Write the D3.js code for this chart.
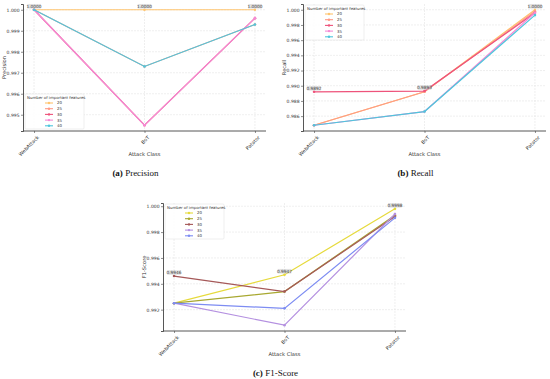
<!DOCTYPE html>
<html><head><meta charset="utf-8">
<script src="https://cdn.jsdelivr.net/npm/d3@7"></script>
<style>body{margin:0;background:#fff}svg{display:block}</style>
</head><body>
<svg id="chart" width="550" height="379"></svg>
<script>
// ---- data ----
const categories = ["WebAttack", "BoT", "Patator"];
const featureCounts = ["20", "25", "30", "35", "40"];
// one array per feature count, in categories order
const precisionValues = [
  [1.0000, 1.0000, 1.0000],
  [1.0000, 0.9973, 0.9993],
  [1.0000, 0.9945, 0.9996],
  [1.0000, 0.9945, 0.9996],
  [1.0000, 0.9973, 0.9993]
];
const recallValues = [
  [0.9848, 0.9892, 1.0000],
  [0.9848, 0.9892, 0.9998],
  [0.9892, 0.9893, 0.9996],
  [0.9848, 0.9866, 0.9996],
  [0.9848, 0.9866, 0.9993]
];
const f1Values = [
  [0.9925, 0.9947, 0.9998],
  [0.9925, 0.9934, 0.9993],
  [0.9946, 0.9934, 0.9992],
  [0.9925, 0.9908, 0.9994],
  [0.9925, 0.9921, 0.9991]
];
const prColors = ["#ffc46e", "#ff9a85", "#ee537b", "#f58ad6", "#4fc6dc"];
const f1Colors = ["#e6da3c", "#a8a830", "#a55858", "#b490e0", "#7d8cf2"];

const panels = [
  {values: precisionValues, colors: prColors, ylabel: "Precision", tag: "(a)", caption: "Precision",
   x0: 23, x1: 266, y0: 4, y1: 131, tickCount: 6, legend: {x: 25, y: 94}},
  {values: recallValues, colors: prColors, ylabel: "Recall", tag: "(b)", caption: "Recall",
   x0: 303, x1: 546, y0: 4, y1: 131, tickCount: 8, legend: {x: 305, y: 5}},
  {values: f1Values, colors: f1Colors, ylabel: "F1-Score", tag: "(c)", caption: "F1-Score",
   x0: 163, x1: 406, y0: 203, y1: 331, tickCount: 5, legend: {x: 165, y: 204}}
];

const svg = d3.select("#chart");
const font = "DejaVu Sans, sans-serif";

panels.forEach(p => {
  const g = svg.append("g");
  const all = p.values.flat();
  const [mn, mx] = d3.extent(all);
  const pad = (mx - mn) * 0.05;
  const y = d3.scaleLinear().domain([mn - pad, mx + pad]).range([p.y1, p.y0]);
  const w = p.x1 - p.x0;
  const m = w * 0.05 / 1.1;
  const x = d3.scalePoint().domain(categories).range([p.x0 + m, p.x1 - m]);
  const ticks = y.ticks(p.tickCount);

  // grid
  g.append("g").selectAll("line").data(ticks).join("line")
    .attr("x1", p.x0).attr("x2", p.x1).attr("y1", d => y(d)).attr("y2", d => y(d))
    .attr("stroke", "#e4e4e4").attr("stroke-width", 0.6).attr("stroke-dasharray", "2,1");
  g.append("g").selectAll("line").data(categories).join("line")
    .attr("x1", d => x(d)).attr("x2", d => x(d)).attr("y1", p.y0).attr("y2", p.y1)
    .attr("stroke", "#e4e4e4").attr("stroke-width", 0.6).attr("stroke-dasharray", "2,1");

  // y axis
  const ya = g.append("g").attr("transform", `translate(${p.x0},0)`)
    .call(d3.axisLeft(y).tickValues(ticks).tickFormat(d3.format(".3f")).tickSize(2).tickPadding(1.5));
  ya.select(".domain").attr("stroke", "#444").attr("stroke-width", 0.9);
  ya.selectAll(".tick line").attr("stroke", "#444").attr("stroke-width", 0.6);
  ya.selectAll("text").attr("font-family", font).attr("font-size", 4.5).attr("fill", "#333");

  // x axis
  const xa = g.append("g").attr("transform", `translate(0,${p.y1})`)
    .call(d3.axisBottom(x).tickSize(2).tickSizeOuter(0).tickPadding(2));
  xa.select(".domain").attr("d", `M${p.x0},0H${p.x1}`).attr("stroke", "#444").attr("stroke-width", 0.9);
  xa.selectAll(".tick line").attr("stroke", "#444").attr("stroke-width", 0.6);
  xa.selectAll("text").attr("font-family", font).attr("font-size", 4.9).attr("fill", "#333")
    .attr("text-anchor", "end").attr("dy", 0)
    .attr("transform", "translate(2,4) rotate(-45)");

  // axis titles
  g.append("text").attr("x", (p.x0 + p.x1) / 2).attr("y", p.y1 + 25)
    .attr("text-anchor", "middle").attr("font-family", font).attr("font-size", 5.2).attr("fill", "#333")
    .text("Attack Class");
  g.append("text").attr("transform", `translate(${p.x0 - 17.5},${(p.y0 + p.y1) / 2}) rotate(-90)`)
    .attr("text-anchor", "middle").attr("font-family", font).attr("font-size", 5.2).attr("fill", "#333")
    .text(p.ylabel);

  // lines
  const line = d3.line().x((d, i) => x(categories[i])).y(d => y(d));
  p.values.forEach((vals, si) => {
    g.append("path").attr("d", line(vals)).attr("fill", "none")
      .attr("stroke", p.colors[si]).attr("stroke-width", 1.2);
    g.append("g").selectAll("circle").data(vals).join("circle")
      .attr("cx", (d, i) => x(categories[i])).attr("cy", d => y(d)).attr("r", 1.3)
      .attr("fill", p.colors[si]);
  });

  // max annotations
  categories.forEach((c, i) => {
    const best = d3.max(p.values, v => v[i]);
    const label = d3.format(".4f")(best);
    const ty = y(best) - 2.2;
    g.append("rect").attr("x", x(c) - 6.8).attr("y", ty - 3.6).attr("width", 13.6).attr("height", 4.6)
      .attr("fill", "#cfcfcf").attr("fill-opacity", 0.6);
    g.append("text").attr("x", x(c)).attr("y", ty)
      .attr("text-anchor", "middle").attr("font-family", font).attr("font-size", 4.3).attr("fill", "#444")
      .text(label);
  });

  // legend
  const L = g.append("g").attr("transform", `translate(${p.legend.x},${p.legend.y})`);
  L.append("rect").attr("width", 59).attr("height", 35).attr("rx", 1)
    .attr("fill", "#fff").attr("fill-opacity", 0.85).attr("stroke", "#ddd").attr("stroke-width", 0.5);
  L.append("text").attr("x", 2).attr("y", 4.6).attr("font-family", font).attr("font-size", 3.9).attr("fill", "#333")
    .text("Number of important features");
  featureCounts.forEach((f, i) => {
    const yy = 9 + i * 5.7;
    L.append("line").attr("x1", 20).attr("x2", 28).attr("y1", yy).attr("y2", yy)
      .attr("stroke", p.colors[i]).attr("stroke-width", 1.1);
    L.append("circle").attr("cx", 24).attr("cy", yy).attr("r", 1.2).attr("fill", p.colors[i]);
    L.append("text").attr("x", 32).attr("y", yy + 1.4).attr("font-family", font).attr("font-size", 3.9).attr("fill", "#333")
      .text(f);
  });

  // caption
  const cx = (p.x0 + p.x1) / 2 - 9;
  const cap = svg.append("text").attr("x", cx).attr("y", p.y1 + 45).attr("text-anchor", "middle")
    .attr("font-family", "Liberation Serif, serif").attr("font-size", 9).attr("fill", "#111");
  cap.append("tspan").attr("font-weight", "bold").text(p.tag);
  cap.append("tspan").text(" " + p.caption);
});
</script>
</body></html>
